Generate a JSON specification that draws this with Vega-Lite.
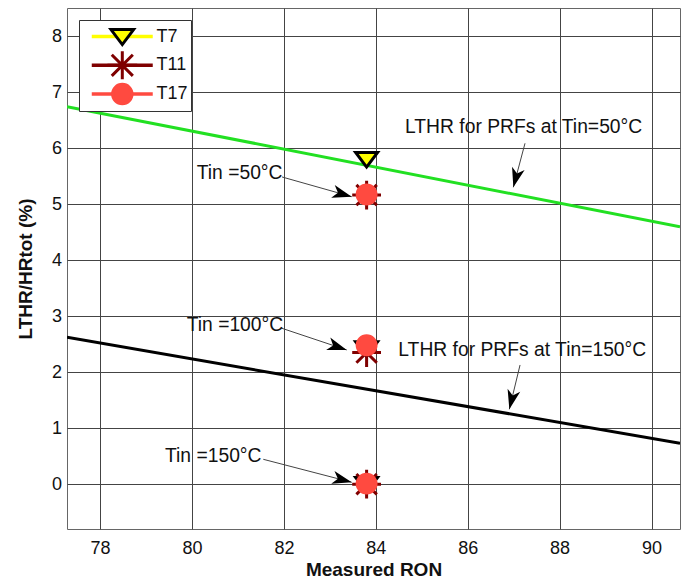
{
  "$schema": "https://vega.github.io/schema/vega-lite/v6.json",
  "width": 613,
  "height": 521,
  "autosize": {"type": "none"},
  "padding": {"left": 67, "top": 8, "right": 8, "bottom": 49},
  "background": "white",
  "config": {
    "view": {"stroke": "#666666", "strokeWidth": 1},
    "font": "Liberation Sans",
    "axis": {
      "grid": true, "gridColor": "#444444", "gridOpacity": 1, "gridWidth": 1,
      "ticks": false, "domain": false,
      "labelFont": "Liberation Sans", "labelFontSize": 18, "labelColor": "#111111",
      "titleFont": "Liberation Sans", "titleFontSize": 19, "titleFontWeight": "bold", "titleColor": "#111111"
    }
  },
  "datasets": {
    "lthr50": [{"ron": 77.28, "lthr": 6.74}, {"ron": 90.62, "lthr": 4.595}],
    "lthr150": [{"ron": 77.28, "lthr": 2.621}, {"ron": 90.62, "lthr": 0.731}],
    "tests": [
      {"test": "T7", "ron": 83.8, "lthr": 5.80, "tin": 50},
      {"test": "T7", "ron": 83.8, "lthr": 2.42, "tin": 100},
      {"test": "T7", "ron": 83.8, "lthr": 0.0, "tin": 150},
      {"test": "T11", "ron": 83.8, "lthr": 5.16, "tin": 50},
      {"test": "T11", "ron": 83.8, "lthr": 2.35, "tin": 100},
      {"test": "T11", "ron": 83.8, "lthr": 0.0, "tin": 150},
      {"test": "T17", "ron": 83.8, "lthr": 5.17, "tin": 50},
      {"test": "T17", "ron": 83.8, "lthr": 2.48, "tin": 100},
      {"test": "T17", "ron": 83.8, "lthr": 0.01, "tin": 150}
    ],
    "series": [{"series": "T7"}, {"series": "T11"}, {"series": "T17"}],
    "arrows": [
      {"arrow": "a1", "x0": 81.959, "y0": 5.484, "x1": 83.476, "y1": 5.132},
      {"arrow": "a2", "x0": 81.937, "y0": 2.788, "x1": 83.367, "y1": 2.396},
      {"arrow": "a3", "x0": 81.552, "y0": 0.444, "x1": 83.476, "y1": 0.034},
      {"arrow": "a4", "x0": 87.247, "y0": 6.085, "x1": 86.993, "y1": 5.300},
      {"arrow": "a5", "x0": 87.139, "y0": 2.128, "x1": 86.906, "y1": 1.337}
    ],
    "notes": [
      {"label": "LTHR for PRFs at Tin=50°C", "ron": 84.636, "lthr": 6.367},
      {"label": "LTHR for PRFs at Tin=150°C", "ron": 84.49, "lthr": 2.396},
      {"label": "Tin =50°C", "ron": 80.103, "lthr": 5.55},
      {"label": "Tin =100°C", "ron": 79.885, "lthr": 2.842},
      {"label": "Tin =150°C", "ron": 79.413, "lthr": 0.503}
    ]
  },
  "layer": [
    {
      "data": {"name": "lthr50"},
      "mark": {"type": "line", "color": "#22e022", "strokeWidth": 3, "clip": true},
      "encoding": {
        "x": {"field": "ron", "type": "quantitative",
          "scale": {"domain": [77.28, 90.62], "nice": false, "zero": false},
          "axis": {"values": [78, 80, 82, 84, 86, 88, 90], "format": "d", "title": "Measured RON", "labelPadding": 10, "titleY": 46, "titleBaseline": "alphabetic"}},
        "y": {"field": "lthr", "type": "quantitative",
          "scale": {"domain": [-0.8, 8.5], "nice": false, "zero": false},
          "axis": {"values": [0, 1, 2, 3, 4, 5, 6, 7, 8], "format": "d", "title": "LTHR/HRtot (%)", "labelPadding": 5.5, "titleX": -35.5, "titleBaseline": "alphabetic"}}
      }
    },
    {
      "data": {"name": "lthr150"},
      "mark": {"type": "line", "color": "#000000", "strokeWidth": 3, "clip": true},
      "encoding": {
        "x": {"field": "ron", "type": "quantitative"},
        "y": {"field": "lthr", "type": "quantitative"}
      }
    },
    {
      "data": {"name": "arrows"},
      "mark": {"type": "rule", "color": "#444444", "strokeWidth": 1},
      "encoding": {
        "x": {"field": "x0", "type": "quantitative"},
        "y": {"field": "y0", "type": "quantitative"},
        "x2": {"field": "x1"},
        "y2": {"field": "y1"}
      }
    },
    {
      "data": {"name": "arrows"},
      "transform": [{"filter": "datum.arrow === 'a1'"}],
      "mark": {"type": "point", "shape": "M0,0L0.5,1.5L0,1.1L-0.5,1.5Z", "filled": true, "color": "#000000", "opacity": 1, "size": 676, "angle": 105.8},
      "encoding": {"x": {"field": "x1", "type": "quantitative"}, "y": {"field": "y1", "type": "quantitative"}}
    },
    {
      "data": {"name": "arrows"},
      "transform": [{"filter": "datum.arrow === 'a2'"}],
      "mark": {"type": "point", "shape": "M0,0L0.5,1.5L0,1.1L-0.5,1.5Z", "filled": true, "color": "#000000", "opacity": 1, "size": 676, "angle": 108.5},
      "encoding": {"x": {"field": "x1", "type": "quantitative"}, "y": {"field": "y1", "type": "quantitative"}}
    },
    {
      "data": {"name": "arrows"},
      "transform": [{"filter": "datum.arrow === 'a3'"}],
      "mark": {"type": "point", "shape": "M0,0L0.5,1.5L0,1.1L-0.5,1.5Z", "filled": true, "color": "#000000", "opacity": 1, "size": 676, "angle": 104.6},
      "encoding": {"x": {"field": "x1", "type": "quantitative"}, "y": {"field": "y1", "type": "quantitative"}}
    },
    {
      "data": {"name": "arrows"},
      "transform": [{"filter": "datum.arrow === 'a4'"}],
      "mark": {"type": "point", "shape": "M0,0L0.5,1.5L0,1.1L-0.5,1.5Z", "filled": true, "color": "#000000", "opacity": 1, "size": 676, "angle": 194.9},
      "encoding": {"x": {"field": "x1", "type": "quantitative"}, "y": {"field": "y1", "type": "quantitative"}}
    },
    {
      "data": {"name": "arrows"},
      "transform": [{"filter": "datum.arrow === 'a5'"}],
      "mark": {"type": "point", "shape": "M0,0L0.5,1.5L0,1.1L-0.5,1.5Z", "filled": true, "color": "#000000", "opacity": 1, "size": 676, "angle": 193.6},
      "encoding": {"x": {"field": "x1", "type": "quantitative"}, "y": {"field": "y1", "type": "quantitative"}}
    },
    {
      "data": {"name": "notes"},
      "mark": {"type": "text", "align": "left", "baseline": "middle", "font": "Liberation Sans", "fontSize": 19.3, "color": "#111111"},
      "encoding": {
        "x": {"field": "ron", "type": "quantitative"},
        "y": {"field": "lthr", "type": "quantitative"},
        "text": {"field": "label"}
      }
    },
    {
      "data": {"name": "series"},
      "mark": {"type": "point", "filled": false, "opacity": 0},
      "encoding": {
        "color": {"field": "series", "type": "nominal", "sort": ["T7", "T11", "T17"],
          "scale": {"range": ["#ffff00", "#7f0000", "#ff4a40"]},
          "legend": {"title": null, "orient": "top-left", "offset": 12,
            "symbolType": "M-0.755,0L1,0", "symbolSize": 4830, "symbolStrokeWidth": 3.5,
            "labelFont": "Liberation Sans", "labelFontSize": 18, "labelColor": "#111111", "labelOffset": 2,
            "labelExpr": "datum.label + '  '",
            "clipHeight": 28, "rowPadding": 0.8, "padding": 2.5,
            "fillColor": "white", "strokeColor": "#333333"}}
      }
    },
    {
      "data": {"name": "tests"},
      "mark": {"type": "point", "filled": true, "opacity": 1, "size": 900, "strokeWidth": 3},
      "encoding": {
        "x": {"field": "ron", "type": "quantitative"},
        "y": {"field": "lthr", "type": "quantitative"},
        "shape": {"field": "test", "type": "nominal",
          "scale": {"domain": ["T7", "T11", "T17"], "range": [
            "M-0.73,-0.45L0.73,-0.45L0,0.52Z",
            "M-0.96,0L0.96,0M0,-0.96L0,0.96M-0.68,-0.68L0.68,0.68M-0.68,0.68L0.68,-0.68",
            "M0.63,0A0.63,0.63 0 1,1 -0.63,0A0.63,0.63 0 1,1 0.63,0Z"]},
          "legend": {"title": null, "orient": "none", "legendX": 35.8, "legendY": 12,
            "symbolSize": 960, "symbolStrokeWidth": 3, "symbolOpacity": 1,
            "labelFontSize": 18, "labelExpr": "''", "labelOffset": 7,
            "clipHeight": 28, "rowPadding": 0.8, "padding": 2.5}},
        "fill": {"field": "test", "type": "nominal",
          "scale": {"domain": ["T7", "T11", "T17"], "range": ["#ffff00", "#7f0000", "#ff4a40"]},
          "legend": {"title": null, "orient": "none", "legendX": 35.8, "legendY": 12,
            "symbolSize": 960, "symbolStrokeWidth": 3, "symbolOpacity": 1,
            "labelFontSize": 18, "labelExpr": "''", "labelOffset": 7,
            "clipHeight": 28, "rowPadding": 0.8, "padding": 2.5}},
        "stroke": {"field": "test", "type": "nominal",
          "scale": {"domain": ["T7", "T11", "T17"], "range": ["#000000", "#7f0000", "#ff4a40"]},
          "legend": {"title": null, "orient": "none", "legendX": 35.8, "legendY": 12,
            "symbolSize": 960, "symbolStrokeWidth": 3, "symbolOpacity": 1,
            "labelFontSize": 18, "labelExpr": "''", "labelOffset": 7,
            "clipHeight": 28, "rowPadding": 0.8, "padding": 2.5}}
      }
    }
  ]
}
